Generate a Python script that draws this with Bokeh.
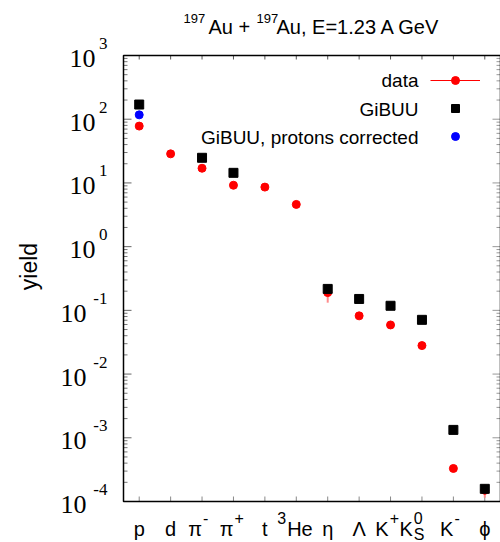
import math
from bokeh.plotting import figure
from bokeh.models import (Range1d, Label, LabelSet, ColumnDataSource, Legend, LegendItem)
from bokeh.embed import file_html
from bokeh.resources import INLINE

# ---------------- data ----------------
categories = ["p", "d", "π-", "π+", "t", "3He", "η", "Λ", "K+", "K0S", "K-", "ϕ"]
cat_base = ["p", "d", "π", "π", "t", "He", "η", "Λ", "K", "K", "K", "ϕ"]
cat_pre = ["", "", "", "", "", "3", "", "", "", "", "", ""]
cat_sup = ["", "", "-", "+", "", "", "", "", "+", "0", "-", ""]
cat_sub = ["", "", "", "", "", "", "", "", "", "S", "", ""]

data_cat = ["p", "d", "π-", "π+", "t", "3He", "η", "Λ", "K+", "K0S", "K-", "ϕ"]
data_yield = [78, 28.6, 17.0, 9.2, 8.6, 4.6, 0.19, 0.082, 0.059, 0.028, 0.00033, 0.00015]
data_err = [6, 2.0, 1.5, 0.8, 0.7, 0.4, 0.058, 0.006, 0.004, 0.002, 0.00003, 0.000035]

gibuu_cat = ["p", "π-", "π+", "η", "Λ", "K+", "K0S", "K-", "ϕ"]
gibuu_yield = [170, 24.8, 14.4, 0.217, 0.151, 0.118, 0.071, 0.00133, 0.000158]

corr_cat = ["p"]
corr_yield = [117]

y_exponents = [-4, -3, -2, -1, 0, 1, 2, 3]

title_parts = [("197", True), ("Au + ", False), ("197", True), ("Au, E=1.23 A GeV", False)]
legend_labels = ["data", "GiBUU", "GiBUU, protons corrected"]
y_title = "yield"

# ---------------- layout / style ----------------
FONT = "Liberation Sans"
W, H = 500, 542
FL, FR, FT, FB = 123, 500, 55, 501          # plot box in screen pixels
n = len(categories)
pos = {c: i + 1 for i, c in enumerate(categories)}
x0b, x1b = 0.5, n + 0.5
e0, e1 = y_exponents[0], y_exponents[-1]
y0b, y1b = 10.0 ** e0, 10.0 ** e1
ppx = (FR - FL) / (x1b - x0b)
ppd = (FB - FT) / (e1 - e0)

p = figure(width=W, height=H, output_backend="svg", toolbar_location=None,
           x_range=Range1d(x0b - FL / ppx, x1b + (W - FR) / ppx),
           y_range=Range1d(10.0 ** (e0 - (H - FB) / ppd), 10.0 ** (e1 + FT / ppd)),
           y_axis_type="log", x_axis_location=None, y_axis_location=None,
           min_border=0)
p.background_fill_color = "white"
p.border_fill_color = "white"
p.outline_line_color = None
p.grid.visible = False

xt = [pos[c] for c in categories]
yt = [10.0 ** e for e in y_exponents]
ymin = [k * 10.0 ** e for e in y_exponents[:-1] for k in range(2, 10)]


# ticks (inward)
def hticks(vals, length, color, side):
    if side == "left":
        a, b = x0b, x0b + length / ppx
    else:
        a, b = x1b - length / ppx, x1b
    p.segment(x0=[a] * len(vals), x1=[b] * len(vals), y0=vals, y1=vals,
              line_color=color, line_width=1)


hticks(yt, 8, "#666666", "left")
hticks(ymin, 4, "#777777", "left")
hticks(yt, 8, "#999999", "right")
hticks(ymin, 4, "#999999", "right")
p.segment(x0=xt, x1=xt, y0=[y0b] * n, y1=[y0b * 10 ** (5 / ppd)] * n,
          line_color="#888888", line_width=1)
p.segment(x0=xt, x1=xt, y0=[y1b] * n, y1=[y1b * 10 ** (-4 / ppd)] * n,
          line_color="#555555", line_width=1)

# plot box
p.quad(left=[x0b], right=[x1b], bottom=[y0b], top=[y1b], fill_color=None,
       line_color="black", line_width=1.5)

# ---------------- glyphs ----------------
dx = [pos[c] for c in data_cat]
lo = [v - e for v, e in zip(data_yield, data_err)]
hi = [v + e for v, e in zip(data_yield, data_err)]
p.segment(x0=dx, y0=lo, x1=dx, y1=hi, line_color="#ff8c8c", line_width=2)
data_r = p.scatter(dx, data_yield, marker="circle", size=8, fill_color="#ff0000",
                   line_color="#ff0000")
gib_r = p.scatter([pos[c] for c in gibuu_cat], gibuu_yield, marker="square", size=9,
                  fill_color="black", line_color="black")
corr_r = p.scatter([pos[c] for c in corr_cat], corr_yield, marker="circle", size=8,
                   fill_color="#0000ff", line_color="#0000ff")
leg_line = p.line(x=[1], y=[float("nan")], line_color="#ff0000", line_width=1)

legend = Legend(items=[LegendItem(label=" ", renderers=[leg_line, data_r]),
                       LegendItem(label=" ", renderers=[gib_r]),
                       LegendItem(label=" ", renderers=[corr_r])],
                location=(430, H - 146), glyph_width=50, glyph_height=20, spacing=8,
                label_standoff=0, label_width=1, label_height=20,
                label_text_font_size="10px", padding=0, margin=0,
                border_line_color=None, background_fill_alpha=0)
p.add_layout(legend)

for i, txt in enumerate(legend_labels):
    p.add_layout(Label(x=418, y=H - 80 - i * 28.5, x_units="screen", y_units="screen",
                       text=txt, text_align="right", text_baseline="middle",
                       text_font=FONT, text_font_size="19px", text_color="black"))

# ---------------- y tick labels ----------------
exp_txt = [str(e) for e in y_exponents]
exp_w = [sum(9 if ch == "-" else 10 for ch in s) for s in exp_txt]
ysrc = ColumnDataSource(dict(y=yt, exp=exp_txt, ten=["10"] * len(yt),
                             xten=[FL - 16 - w - 2 for w in exp_w],
                             xexp=[FL - 16] * len(yt)))
p.add_layout(LabelSet(x="xten", y="y", text="ten", source=ysrc, x_units="screen",
                      y_units="data", text_align="right", text_baseline="middle",
                      y_offset=-3, text_font=FONT, text_font_size="26px",
                      text_color="black"))
p.add_layout(LabelSet(x="xexp", y="y", text="exp", source=ysrc, x_units="screen",
                      y_units="data", text_align="right", text_baseline="middle",
                      y_offset=12, text_font=FONT, text_font_size="17px",
                      text_color="black"))

# ---------------- x tick labels ----------------
shift = {"3He": -0.29, "K0S": -0.29, "K+": -0.06}
YB, YSUP, YSUB = H - 528, H - 517, H - 534
for i, c in enumerate(categories):
    a = pos[c] + shift.get(c, 0.0)
    common = dict(y_units="screen", x_units="data", text_font=FONT,
                  text_color="black", text_baseline="middle")
    if cat_pre[i]:
        p.add_layout(Label(x=a, y=YSUP, x_offset=-1, text=cat_pre[i], text_align="right",
                           text_font_size="16px", **common))
        p.add_layout(Label(x=a, y=YB, text=cat_base[i], text_align="left",
                           text_font_size="20px", **common))
    elif cat_sup[i] or cat_sub[i]:
        p.add_layout(Label(x=a, y=YB, text=cat_base[i], text_align="right",
                           text_font_size="20px", **common))
        if cat_sup[i]:
            p.add_layout(Label(x=a, y=YSUP, x_offset=1, text=cat_sup[i], text_align="left",
                               text_font_size="16px", **common))
        if cat_sub[i]:
            p.add_layout(Label(x=a, y=YSUB, x_offset=1, text=cat_sub[i], text_align="left",
                               text_font_size="16px", **common))
    else:
        p.add_layout(Label(x=a, y=YB, text=cat_base[i], text_align="center",
                           text_font_size="20px", **common))

# ---------------- axis title & plot title ----------------
p.add_layout(Label(x=28, y=H - 266, x_units="screen", y_units="screen", text=y_title,
                   angle=math.pi / 2, text_align="center", text_baseline="middle",
                   text_font=FONT, text_font_size="23px", text_color="black"))

tx = [183, 208, 256, 276]
for (txt, sup), x in zip(title_parts, tx):
    p.add_layout(Label(x=x, y=H - (17.5 if sup else 26.5), x_units="screen",
                       y_units="screen", text=txt, text_align="left",
                       text_baseline="middle", text_font=FONT,
                       text_font_size="13px" if sup else "20px", text_color="black"))

open("out.html", "w").write(file_html(p, INLINE))
